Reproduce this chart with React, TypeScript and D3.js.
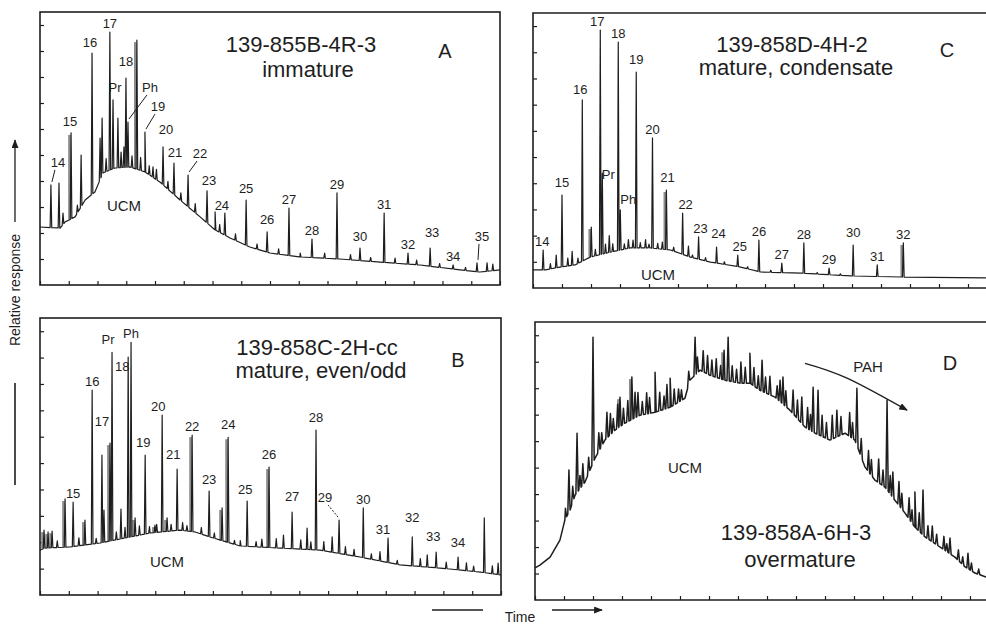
import React, { useEffect, useRef } from 'react';
import * as d3 from 'd3';

const W = 986;
const H = 624;
const T_MAX = 16;
const R_MAX = 10.5;
const ink = '#1e1e1e';
const font = 'Liberation Sans, Arial, Helvetica, sans-serif';

type Pt = [number, number];
type Peak = [number, number, string?];

// A: 139-855B-4R-3, immature
const baseA: Pt[] = [[0, 2.23], [0.7, 2.19], [0.87, 2.42], [1.22, 2.62], [1.57, 3.27], [1.91, 3.58], [2.19, 4.31], [2.61, 4.5], [3.13, 4.54], [3.65, 4.35], [4.17, 3.96], [4.87, 3.27], [5.57, 2.62], [6.09, 2.12], [6.61, 1.81], [7.3, 1.46], [8.0, 1.23], [9.04, 1.08], [10.43, 1.0], [11.83, 0.88], [13.22, 0.77], [14.61, 0.58], [15.3, 0.5], [16, 0.58]];
const peaksA: Peak[] = [[0.38, 3.85, '14'], [0.66, 3.92], [0.8, 2.77], [1.08, 5.85, '15'], [1.43, 5.0], [1.81, 8.92, '16'], [2.09, 5.65], [2.16, 6.42], [2.43, 9.73, '17'], [2.54, 7.12, 'Pr'], [2.71, 6.42], [2.92, 5.31], [2.99, 7.96, '18'], [3.06, 6.27, 'Ph'], [3.37, 9.42], [3.65, 5.88, '19'], [3.93, 4.54], [4.28, 5.31, '20'], [4.66, 4.69, '21'], [5.15, 4.23, '22'], [5.81, 3.62, '23'], [6.09, 2.81], [6.43, 2.77, '24'], [7.17, 3.27, '25'], [7.9, 2.04, '26'], [8.66, 2.96, '27'], [9.46, 1.77, '28'], [10.33, 3.54, '29'], [11.13, 1.42, '30'], [11.97, 2.77, '31'], [12.8, 1.23, '32'], [13.57, 1.42, '33'], [14.37, 0.77, '34'], [15.2, 0.85, '35'], [15.55, 0.85]];
const noiseA: Pt[] = [[1.3, 0.3], [2.3, 0.5], [2.82, 0.6], [3.2, 0.45], [3.5, 0.5], [3.8, 0.35], [4.05, 0.4], [4.45, 0.3], [4.9, 0.3], [5.4, 0.35], [6.25, 0.3], [6.8, 0.25], [7.55, 0.2], [8.3, 0.2], [9.05, 0.15], [9.9, 0.2], [10.8, 0.2], [11.5, 0.15], [12.35, 0.2], [13.1, 0.18], [13.9, 0.15], [14.8, 0.12], [15.75, 0.25]];
const greyA: number[] = [1.08, 3.37];

// B: 139-858C-2H-cc, mature, even/odd
const baseB: Pt[] = [[0, 1.7], [0.17, 1.78], [1.04, 1.82], [2.08, 1.97], [3.13, 2.2], [3.82, 2.35], [4.86, 2.46], [5.38, 2.39], [5.9, 2.2], [6.94, 1.86], [8.33, 1.78], [9.72, 1.7], [11.11, 1.44], [12.5, 1.14], [13.89, 1.02], [15.28, 0.87], [16, 0.76]];
const peaksB: Peak[] = [[0.14, 2.46], [0.28, 2.39], [0.42, 2.42], [0.87, 3.64], [1.15, 3.52, '15'], [1.56, 2.84], [1.81, 7.77, '16'], [2.15, 5.3, '17'], [2.22, 3.22], [2.43, 5.76], [2.5, 9.2, 'Pr'], [2.81, 3.26], [3.06, 9.02, '18'], [3.16, 9.58, 'Ph'], [3.3, 2.92], [3.65, 5.3, '19'], [3.99, 2.65], [4.24, 6.82, '20'], [4.41, 2.92], [4.76, 4.77, '21'], [5.28, 6.06, '22'], [5.87, 3.94, '23'], [6.32, 3.3], [6.53, 5.98, '24'], [7.19, 3.56, '25'], [7.95, 4.85, '26'], [8.75, 3.14, '27'], [9.27, 2.54], [9.58, 6.25, '28'], [10.14, 2.2], [10.38, 2.84, '29'], [11.22, 3.3, '30'], [12.08, 2.16, '31'], [12.92, 2.2, '32'], [13.44, 1.52], [13.75, 1.63, '33'], [14.51, 1.44, '34'], [15.42, 2.92], [15.9, 1.21]];
const noiseB: Pt[] = [[0.6, 0.25], [1.35, 0.3], [1.95, 0.2], [2.65, 0.3], [2.95, 0.4], [3.45, 0.35], [3.8, 0.25], [4.05, 0.3], [4.55, 0.25], [4.95, 0.3], [5.1, 0.2], [5.6, 0.25], [6.05, 0.2], [6.75, 0.15], [6.95, 0.2], [7.5, 0.2], [7.7, 0.3], [8.2, 0.35], [8.45, 0.5], [9.05, 0.35], [9.4, 0.3], [9.85, 0.35], [10.6, 0.3], [10.9, 0.25], [11.5, 0.2], [11.8, 0.35], [12.4, 0.15], [13.2, 0.3], [14.1, 0.25], [14.8, 0.3], [15.05, 0.2], [15.7, 0.3]];
const greyB: number[] = [0.14, 0.28, 0.42, 0.87, 1.56, 2.43, 3.3, 3.99, 4.41, 5.28, 6.32, 6.53, 7.95];

// C: 139-858D-4H-2, mature, condensate
const baseC: Pt[] = [[0, 0.69], [0.42, 0.69], [0.93, 0.8], [1.45, 0.88], [1.97, 1.18], [2.66, 1.37], [3.36, 1.53], [4.05, 1.53], [4.74, 1.45], [5.43, 1.18], [6.12, 0.99], [7.16, 0.8], [7.85, 0.61], [9.24, 0.57], [10.97, 0.46], [12.7, 0.42], [16, 0.38]];
const peaksC: Peak[] = [[0.35, 1.45, '14'], [0.8, 1.26], [1.0, 3.55, '15'], [1.35, 1.4], [1.7, 7.18, '16'], [2.01, 2.33], [2.32, 9.85, '17'], [2.39, 4.39, 'Pr'], [2.63, 2.0], [2.94, 9.39, '18'], [3.01, 2.98, 'Ph'], [3.29, 1.85], [3.56, 8.24, '19'], [3.88, 1.85], [4.12, 5.73, '20'], [4.46, 1.75], [4.6, 3.74, '21'], [5.16, 2.86, '22'], [5.36, 1.6], [5.71, 1.95, '23'], [6.33, 1.56, '24'], [7.06, 1.26, '25'], [7.79, 1.83, '26'], [8.58, 0.95, '27'], [9.34, 1.72, '28'], [10.21, 0.76, '29'], [11.04, 1.64, '30'], [11.87, 0.88, '31'], [12.77, 1.72, '32']];
const noiseC: Pt[] = [[0.6, 0.2], [1.2, 0.3], [1.55, 0.2], [2.15, 0.25], [2.5, 0.35], [2.75, 0.3], [3.15, 0.2], [3.45, 0.3], [3.7, 0.2], [4.0, 0.15], [4.3, 0.2], [4.85, 0.15], [5.5, 0.1], [5.95, 0.12], [6.6, 0.1], [7.4, 0.08], [8.2, 0.08], [9.8, 0.06], [10.6, 0.06]];
const greyC: number[] = [2.01, 4.6, 12.77];

// D: 139-858A-6H-3, overmature
const baseD: Pt[] = [[0, 1.21], [0.17, 1.32], [0.52, 1.62], [0.86, 2.26], [1.03, 3.02], [1.21, 3.4], [1.38, 3.96], [1.72, 4.45], [2.07, 5.36], [2.41, 6.04], [2.76, 6.42], [3.1, 6.68], [3.62, 6.98], [4.14, 7.09], [4.66, 7.28], [5.17, 7.62], [5.34, 8.3], [5.69, 8.68], [6.03, 8.49], [6.55, 8.3], [7.07, 8.19], [7.41, 8.19], [7.76, 7.92], [8.28, 7.66], [8.79, 7.17], [9.31, 6.53], [9.66, 6.3], [10.17, 6.04], [10.69, 6.3], [11.03, 6.04], [11.38, 5.02], [11.72, 4.53], [12.07, 4.26], [12.41, 3.77], [12.76, 3.28], [13.1, 2.75], [13.45, 2.38], [13.97, 2.0], [14.48, 1.62], [14.83, 1.25], [15.17, 1.02], [15.55, 0.87], [16, 0.75]];
const peaksD: Peak[] = [[1.17, 4.91], [1.45, 6.3], [2.0, 9.92], [2.48, 7.09], [2.93, 7.66], [3.34, 8.42], [3.45, 7.85], [4.14, 8.6], [4.66, 8.38], [5.52, 9.92], [6.52, 9.43], [6.66, 9.92], [7.41, 9.32], [7.83, 9.06], [8.55, 8.42], [9.59, 8.04], [9.76, 7.92], [10.41, 7.17], [11.1, 8.0], [12.14, 7.55], [12.34, 4.83], [13.1, 4.08], [13.38, 4.15], [14.31, 2.34], [14.93, 1.77]];
const noiseD: Pt[] = [[1.05, 0.4], [1.3, 0.6], [1.55, 0.5], [1.65, 0.8], [1.85, 0.6], [2.2, 0.7], [2.3, 0.5], [2.6, 0.8], [2.7, 0.5], [2.85, 0.9], [3.05, 0.6], [3.2, 0.8], [3.55, 0.9], [3.7, 0.5], [3.85, 0.8], [3.95, 0.6], [4.3, 0.7], [4.45, 0.5], [4.55, 0.9], [4.8, 0.6], [4.95, 0.5], [5.05, 0.4], [5.3, 0.5], [5.6, 0.6], [5.8, 0.8], [5.95, 0.7], [6.1, 0.6], [6.25, 0.7], [6.4, 0.5], [6.8, 0.6], [6.95, 0.5], [7.1, 0.8], [7.25, 0.6], [7.55, 0.7], [7.7, 0.5], [7.95, 0.6], [8.1, 0.7], [8.35, 0.5], [8.45, 0.8], [8.65, 0.6], [8.9, 0.9], [9.05, 0.7], [9.2, 1.0], [9.4, 0.8], [9.5, 0.6], [9.9, 0.8], [10.05, 0.6], [10.25, 0.9], [10.55, 0.7], [10.85, 0.9], [10.95, 0.6], [11.25, 0.7], [11.5, 0.8], [11.6, 0.6], [11.85, 0.9], [12.0, 0.6], [12.25, 0.7], [12.55, 0.9], [12.65, 0.6], [12.9, 0.8], [13.0, 0.5], [13.25, 0.7], [13.55, 0.5], [13.7, 0.6], [13.85, 0.4], [14.1, 0.5], [14.2, 0.3], [14.6, 0.4], [14.75, 0.3], [15.05, 0.3], [15.3, 0.2]];
const greyD: number[] = [2.93, 3.34, 6.52];
const pahArrow: Pt[] = [[9.31, 8.94], [10.76, 8.38], [12.83, 7.17]];

// label nudges in px from the default spot just above the peak
const nudgeA: Record<string, Pt> = { '14': [7, -14], Pr: [2, -4], '18': [0, -8], Ph: [22, -26], '19': [13, -17], '20': [3, -9], '21': [1, -2], '22': [12, -13], '23': [2, -2], '24': [-3, 1], '25': [0, -3], '26': [0, -4], '30': [0, -3], '33': [2, -7], '35': [5, -18], '15': [-1, -3], '16': [-2, -2] };
const nudgeB: Record<string, Pt> = { '17': [0, -25], Pr: [-4, -4], '18': [-6, 18], '19': [-2, -4], '20': [-4, 0], '21': [-4, -6], '23': [0, -3], '24': [0, -4], '25': [-2, -3], '26': [0, -4], '27': [0, -7], '28': [0, -4], '29': [-14, -14], '31': [-5, 0], '32': [0, -11], '33': [-3, -7], '34': [0, -6] };
const nudgeC: Record<string, Pt> = { '14': [-1, 0], '15': [0, -4], '16': [-2, -2], '17': [-3, 0], Pr: [6, 10], Ph: [8, -2], '19': [0, -4], '21': [1, -4], '22': [3, 0], '23': [2, 0], '24': [2, -5], '25': [2, 0], '30': [0, -4] };

const panels = [
	{ key: 'A', box: [40, 500, 12, 285], closed: true, base: baseA, peaks: peaksA, noise: noiseA, grey: greyA, nudge: nudgeA, slash: ['14', 'Ph', '19', '22', '35'],
		titles: [['139-855B-4R-3', 301, 52], ['immature', 308, 77]], letter: ['A', 445, 58], ucm: [124, 211] },
	{ key: 'B', box: [40, 501, 318, 595], closed: true, base: baseB, peaks: peaksB, noise: noiseB, grey: greyB, nudge: nudgeB, slash: ['29'],
		titles: [['139-858C-2H-cc', 317, 355], ['mature, even/odd', 321, 378]], letter: ['B', 458, 367], ucm: [167, 567] },
	{ key: 'C', box: [533, 997, 13, 288], closed: false, base: baseC, peaks: peaksC, noise: noiseC, grey: greyC, nudge: nudgeC, slash: [],
		titles: [['139-858D-4H-2', 792, 52], ['mature, condensate', 796, 75]], letter: ['C', 947, 57], ucm: [658, 280] },
	{ key: 'D', box: [535, 999, 322, 600], closed: false, base: baseD, peaks: peaksD, noise: noiseD, grey: greyD, nudge: {}, slash: [],
		titles: [['139-858A-6H-3', 796, 540], ['overmature', 800, 567]], letter: ['D', 950, 370], ucm: [685, 473] },
];

const drawPanel = (svg, p) => {
	const [x0, x1, y0, y1] = p.box;
	const x = d3.scaleLinear().domain([0, T_MAX]).range([x0, x1]);
	const y = d3.scaleLinear().domain([0, R_MAX]).range([y1, y0]);
	const floor = d3.scaleLinear().domain(p.base.map((d) => d[0])).range(p.base.map((d) => d[1])).clamp(true);
	const half = p.key === 'D' ? 0.04 : 0.028;
	const g = svg.append('g');

	// frame
	if (p.closed) {
		g.append('rect').attr('x', x0).attr('y', y0).attr('width', x1 - x0).attr('height', y1 - y0)
			.attr('fill', 'none').attr('stroke', ink).attr('stroke-width', 1.6);
	} else {
		g.append('path').attr('d', `M${ W + 5 },${ y0 }H${ x0 }V${ y1 }H${ W + 5 }`)
			.attr('fill', 'none').attr('stroke', ink).attr('stroke-width', 1.6);
	}
	g.append('g').attr('transform', `translate(0,${ y1 })`)
		.call(d3.axisBottom(x).ticks(T_MAX).tickSize(-4).tickFormat(() => ''))
		.call((s) => s.select('.domain').remove())
		.selectAll('line').attr('stroke', ink).attr('stroke-width', 1.2);
	g.append('g').attr('transform', `translate(${ x0 },0)`)
		.call(d3.axisLeft(y).tickValues(d3.range(1, 11)).tickSize(-4).tickFormat(() => ''))
		.call((s) => s.select('.domain').remove())
		.selectAll('line').attr('stroke', ink).attr('stroke-width', 1.2);

	// grey doubled peaks of the scan
	g.selectAll('.grey').data(p.peaks.filter((d) => p.grey.includes(d[0])))
		.join('line').attr('class', 'grey')
		.attr('x1', (d) => x(d[0]) - 1.6).attr('x2', (d) => x(d[0]) - 1.6)
		.attr('y1', (d) => y(floor(d[0]))).attr('y2', (d) => y(d[1]) + 2)
		.attr('stroke', '#8c8c8c').attr('stroke-width', 2.6);

	// trace
	const spikes = [
		...p.peaks.map((d) => [d[0], d[1]]),
		...p.noise.map((d) => [d[0], floor(d[0]) + d[1]]),
	];
	const pts = p.base.map((d) => [d[0], d[1]]);
	spikes.forEach(([t, r]) => {
		pts.push([t - half, floor(t - half)], [t, r], [t + half, floor(t + half)]);
	});
	pts.sort((a, b) => a[0] - b[0]);
	g.append('path').datum(pts)
		.attr('fill', 'none').attr('stroke', ink)
		.attr('stroke-width', p.key === 'D' ? 1.5 : 1.2)
		.attr('stroke-linejoin', 'round')
		.attr('d', d3.line().x((d) => x(d[0])).y((d) => y(d[1])));

	// peak labels
	p.peaks.filter((d) => d[2]).forEach(([t, r, lab]) => {
		const [dx, dy] = p.nudge[lab] || [0, 0];
		const lx = x(t) + dx;
		const ly = y(r) - 4 + dy;
		g.append('text').attr('x', lx).attr('y', ly)
			.attr('text-anchor', 'middle').attr('font-family', font).attr('font-size', 13)
			.attr('fill', ink).text(lab);
		if (p.slash.includes(lab)) {
			const sg = lx > x(t) ? 1 : -1;
			g.append('line')
				.attr('x1', x(t) + sg).attr('y1', y(r) - 3)
				.attr('x2', lx - sg * 3).attr('y2', ly + 3)
				.attr('stroke', ink).attr('stroke-width', 1)
				.attr('stroke-dasharray', p.key === 'B' ? '2,1.5' : null);
		}
	});

	// texts
	p.titles.forEach(([txt, cx, by]) => {
		g.append('text').attr('x', cx).attr('y', by).attr('text-anchor', 'middle')
			.attr('font-family', font).attr('font-size', 22).attr('fill', ink).text(txt);
	});
	g.append('text').attr('x', p.letter[1]).attr('y', p.letter[2]).attr('text-anchor', 'middle')
		.attr('font-family', font).attr('font-size', 20).attr('fill', ink).text(p.letter[0]);
	g.append('text').attr('x', p.ucm[0]).attr('y', p.ucm[1]).attr('text-anchor', 'middle')
		.attr('font-family', font).attr('font-size', 15).attr('fill', ink).text('UCM');

	if (p.key === 'D') {
		g.append('path').datum(pahArrow)
			.attr('fill', 'none').attr('stroke', ink).attr('stroke-width', 1.3)
			.attr('marker-end', 'url(#arr)')
			.attr('d', d3.line().curve(d3.curveNatural).x((d) => x(d[0])).y((d) => y(d[1])));
		g.append('text').attr('x', 868).attr('y', 372).attr('text-anchor', 'middle')
			.attr('font-family', font).attr('font-size', 15).attr('fill', ink).text('PAH');
	}
};

const Chromatograms = () => {
	const ref = useRef<SVGSVGElement>(null);

	useEffect(() => {
		const svg = d3.select(ref.current);
		svg.selectAll('*').remove();
		svg.append('defs').append('marker')
			.attr('id', 'arr').attr('viewBox', '0 0 10 8').attr('refX', 9).attr('refY', 4)
			.attr('markerWidth', 9).attr('markerHeight', 7).attr('markerUnits', 'userSpaceOnUse')
			.attr('orient', 'auto')
			.append('path').attr('d', 'M0,0L10,4L0,8Z').attr('fill', ink);

		panels.forEach((p) => drawPanel(svg, p));

		// y axis caption
		svg.append('line').attr('x1', 15).attr('x2', 15).attr('y1', 222).attr('y2', 140)
			.attr('stroke', ink).attr('stroke-width', 1.3).attr('marker-end', 'url(#arr)');
		svg.append('line').attr('x1', 15).attr('x2', 15).attr('y1', 383).attr('y2', 485)
			.attr('stroke', ink).attr('stroke-width', 1.6);
		svg.append('text').attr('transform', 'translate(20,290) rotate(-90)')
			.attr('text-anchor', 'middle').attr('font-family', font).attr('font-size', 14)
			.attr('fill', ink).text('Relative response');

		// time caption
		svg.append('line').attr('x1', 432).attr('x2', 483).attr('y1', 610).attr('y2', 610)
			.attr('stroke', ink).attr('stroke-width', 1.4);
		svg.append('line').attr('x1', 552).attr('x2', 602).attr('y1', 610).attr('y2', 610)
			.attr('stroke', ink).attr('stroke-width', 1.4).attr('marker-end', 'url(#arr)');
		svg.append('text').attr('x', 520).attr('y', 622).attr('text-anchor', 'middle')
			.attr('font-family', font).attr('font-size', 14).attr('fill', ink).text('Time');
	}, []);

	return (
		<svg ref={ ref } width={ W } height={ H }
			style={ { position: 'absolute', left: 0, top: 0, background: '#fff' } }/>
	);
};

export default function App() {
	return <Chromatograms/>;
}
